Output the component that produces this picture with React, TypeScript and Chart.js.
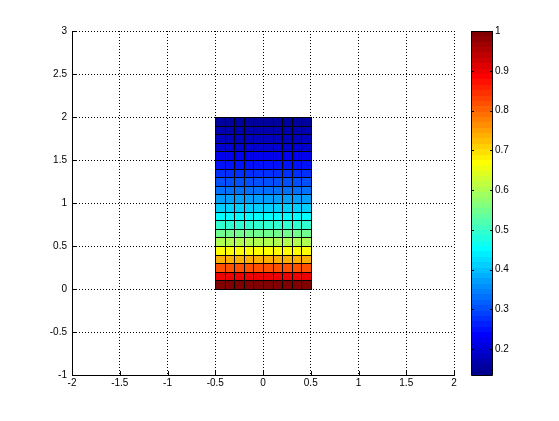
import React, { useEffect, useRef } from "react";
import { Chart, registerables } from "chart.js";

Chart.register(...registerables);

// Axis ticks
const xTickValues = [-2, -1.5, -1, -0.5, 0, 0.5, 1, 1.5, 2];
const yTickValues = [-1, -0.5, 0, 0.5, 1, 1.5, 2, 2.5, 3];
const colorbarTickValues = [0.2, 0.3, 0.4, 0.5, 0.6, 0.7, 0.8, 0.9, 1];

// Mesh cell edges
const xEdges = [-0.5, -0.4, -0.3, -0.2, -0.1, 0, 0.1, 0.2, 0.3, 0.4, 0.5];
const yEdges = [0, 0.1, 0.2, 0.3, 0.4, 0.5, 0.6, 0.7, 0.8, 0.9, 1, 1.1, 1.2, 1.3, 1.4, 1.5, 1.6, 1.7, 1.8, 1.9, 2];

// Colour value of each row of cells (bottom to top)
const rowValues = [
  1.0, 0.905, 0.819, 0.741, 0.67, 0.607, 0.549, 0.497, 0.449, 0.407,
  0.368, 0.333, 0.301, 0.273, 0.247, 0.223, 0.202, 0.183, 0.165, 0.15,
];

// Colour limits
const colorMin = 0.1353;
const colorMax = 1;

const NCOLORS = 64;

function jet(k: number): string {
  const u = (j: number) => (j < 1 || j > 47 ? 0 : j <= 16 ? j / 16 : j <= 31 ? 1 : (48 - j) / 16);
  const r = Math.round(u(k - 24) * 255);
  const g = Math.round(u(k - 8) * 255);
  const b = Math.round(u(k + 8) * 255);
  return `rgb(${r},${g},${b})`;
}

function colorFor(v: number): string {
  let k = Math.floor(((v - colorMin) / (colorMax - colorMin)) * NCOLORS) + 1;
  if (k < 1) k = 1;
  if (k > NCOLORS) k = NCOLORS;
  return jet(k);
}

const meshPlugin = {
  id: "mesh",
  afterDatasetsDraw(chart: any) {
    const ctx = chart.ctx as CanvasRenderingContext2D;
    const xs = chart.scales.x;
    const ys = chart.scales.y;
    const area = chart.chartArea;
    ctx.save();
    ctx.setLineDash([]);
    // cells
    for (let i = 0; i < rowValues.length; i++) {
      const y0 = Math.round(ys.getPixelForValue(yEdges[i]));
      const y1 = Math.round(ys.getPixelForValue(yEdges[i + 1]));
      ctx.fillStyle = colorFor(rowValues[i]);
      for (let j = 0; j < xEdges.length - 1; j++) {
        const x0 = Math.round(xs.getPixelForValue(xEdges[j]));
        const x1 = Math.round(xs.getPixelForValue(xEdges[j + 1]));
        ctx.fillRect(x0, y1, x1 - x0, y0 - y1);
      }
    }
    // edges
    ctx.strokeStyle = "#000";
    ctx.lineWidth = 1;
    ctx.beginPath();
    const top = Math.round(ys.getPixelForValue(yEdges[yEdges.length - 1]));
    const bot = Math.round(ys.getPixelForValue(yEdges[0]));
    const left = Math.round(xs.getPixelForValue(xEdges[0]));
    const right = Math.round(xs.getPixelForValue(xEdges[xEdges.length - 1]));
    for (const xe of xEdges) {
      const px = Math.round(xs.getPixelForValue(xe)) + 0.5;
      ctx.moveTo(px, top);
      ctx.lineTo(px, bot + 1);
    }
    for (const ye of yEdges) {
      const py = Math.round(ys.getPixelForValue(ye)) + 0.5;
      ctx.moveTo(left, py);
      ctx.lineTo(right + 1, py);
    }
    ctx.stroke();

    // inward tick marks on left and bottom axes
    ctx.beginPath();
    const tl = 4;
    for (const v of xTickValues) {
      const px = Math.round(xs.getPixelForValue(v)) + 0.5;
      ctx.moveTo(px, area.bottom);
      ctx.lineTo(px, area.bottom - tl);
    }
    for (const v of yTickValues) {
      const py = Math.round(ys.getPixelForValue(v)) + 0.5;
      ctx.moveTo(area.left, py);
      ctx.lineTo(area.left + tl, py);
    }
    ctx.stroke();

    // colour bar
    const cb = chart.scales.cb;
    const cbLeft = area.right + 17;
    const cbRight = area.right + 38;
    for (let k = 1; k <= NCOLORS; k++) {
      const v0 = colorMin + ((k - 1) / NCOLORS) * (colorMax - colorMin);
      const v1 = colorMin + (k / NCOLORS) * (colorMax - colorMin);
      const p0 = Math.round(cb.getPixelForValue(v0));
      const p1 = Math.round(cb.getPixelForValue(v1));
      ctx.fillStyle = jet(k);
      ctx.fillRect(cbLeft, p1, cbRight - cbLeft, p0 - p1);
    }
    ctx.beginPath();
    const cbTop = Math.round(cb.getPixelForValue(colorMax));
    const cbBot = Math.round(cb.getPixelForValue(colorMin));
    ctx.rect(cbLeft + 0.5, cbTop + 0.5, cbRight - cbLeft, cbBot - cbTop);
    for (const v of colorbarTickValues) {
      const py = Math.round(cb.getPixelForValue(v)) + 0.5;
      ctx.moveTo(cbLeft, py);
      ctx.lineTo(cbLeft + 3, py);
      ctx.moveTo(cbRight + 1, py);
      ctx.lineTo(cbRight - 2, py);
    }
    ctx.stroke();
    ctx.restore();
  },
};

const fmt = (v: number | string) => String(Math.round(Number(v) * 100) / 100);

const noPad = (s: any) => {
  s.paddingTop = 0;
  s.paddingBottom = 0;
  s.paddingLeft = 0;
  s.paddingRight = 0;
};

export default function App() {
  const ref = useRef<HTMLCanvasElement | null>(null);
  useEffect(() => {
    if (!ref.current) return;
    Chart.defaults.font.family = "'Liberation Sans', Arial, sans-serif";
    Chart.defaults.font.size = 10;
    Chart.defaults.color = "#000";
    const cellCenters: { x: number; y: number }[] = [];
    for (let i = 0; i < rowValues.length; i++)
      for (let j = 0; j < xEdges.length - 1; j++)
        cellCenters.push({ x: (xEdges[j] + xEdges[j + 1]) / 2, y: (yEdges[i] + yEdges[i + 1]) / 2 });
    const chart = new Chart(ref.current, {
      type: "scatter",
      data: {
        datasets: [
          { data: cellCenters, pointRadius: 0, pointHoverRadius: 0, showLine: false },
        ],
      },
      options: {
        responsive: false,
        animation: false,
        devicePixelRatio: 1,
        events: [],
        layout: { padding: { top: 31, left: 0, right: 0, bottom: 0 } },
        plugins: { legend: { display: false }, tooltip: { enabled: false } },
        scales: {
          x: {
            type: "linear",
            position: "bottom",
            min: -2,
            max: 2,
            afterBuildTicks: (s: any) => {
              s.ticks = xTickValues.map((v) => ({ value: v }));
            },
            afterFit: (s: any) => {
              s.height = 46;
              noPad(s);
            },
            ticks: { padding: 2, maxRotation: 0, autoSkip: false, callback: fmt },
            grid: { color: "#000", lineWidth: 1, drawTicks: false },
            border: { display: true, color: "#000", width: 1, dash: [1, 2] },
          },
          y: {
            type: "linear",
            position: "left",
            min: -1,
            max: 3,
            afterBuildTicks: (s: any) => {
              s.ticks = yTickValues.map((v) => ({ value: v }));
            },
            afterFit: (s: any) => {
              s.width = 72;
              noPad(s);
            },
            ticks: { padding: 5, autoSkip: false, callback: fmt },
            grid: { color: "#000", lineWidth: 1, drawTicks: false },
            border: { display: true, color: "#000", width: 1, dash: [1, 2] },
          },
          cb: {
            type: "linear",
            position: "right",
            min: colorMin,
            max: colorMax,
            afterBuildTicks: (s: any) => {
              s.ticks = colorbarTickValues.map((v) => ({ value: v }));
            },
            afterFit: (s: any) => {
              s.width = 105;
              noPad(s);
            },
            ticks: { padding: 41, autoSkip: false, callback: fmt },
            grid: { display: false, drawTicks: false },
            border: { display: false },
          },
        },
      },
      plugins: [meshPlugin],
    });
    return () => chart.destroy();
  }, []);
  return (
    <div style={{ position: "absolute", left: 0, top: 0, width: 559, height: 421, background: "#fff" }}>
      <canvas ref={ref} width={559} height={421} style={{ display: "block", width: 559, height: 421 }} />
    </div>
  );
}
